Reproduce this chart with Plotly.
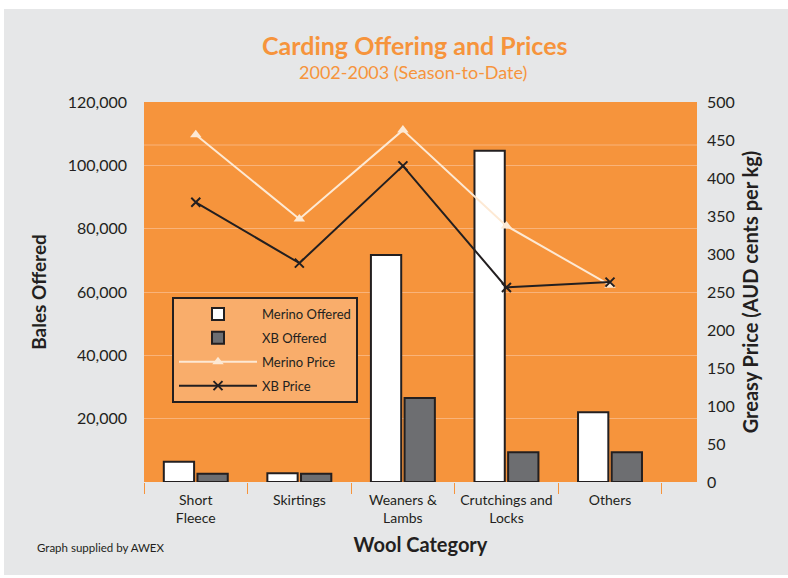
import plotly.graph_objects as go

categories = ["Short<br>Fleece", "Skirtings", "Weaners &<br>Lambs", "Crutchings and<br>Locks", "Others"]
merino_offered = [6400, 2800, 71700, 104600, 22000]
xb_offered = [2600, 2600, 26500, 9400, 9400]
merino_price = [457, 346, 463, 337, 259]
xb_price = [368, 288, 416, 256, 263]

left_ticks = [20000, 40000, 60000, 80000, 100000, 120000]
right_ticks = list(range(0, 501, 50))

FONT = "Lato, 'Open Sans', sans-serif"
DARK = "#231f20"
ORANGE = "#f6943c"
GREY = "#e6e7e8"

W, H = 788, 578
L, R, T, B = 144, 697, 102, 482


def px(x):
    return (x - L) / (R - L)


def py(y):
    return (B - y) / (B - T)


fig = go.Figure()
fig.add_trace(go.Bar(x=categories, y=merino_offered, name="Merino Offered",
                     marker=dict(color="white", line=dict(color=DARK, width=2)),
                     legendgroup="a"))
fig.add_trace(go.Bar(x=categories, y=xb_offered, name="XB Offered",
                     marker=dict(color="#6d6e71", line=dict(color=DARK, width=2)),
                     legendgroup="b"))
fig.add_trace(go.Scatter(x=categories, y=merino_price, name="Merino Price", yaxis="y2",
                         mode="lines+markers",
                         line=dict(color="#fde9d4", width=2),
                         marker=dict(symbol="triangle-up", size=10, color="#fde9d4"),
                         legendgroup="c"))
fig.add_trace(go.Scatter(x=categories, y=xb_price, name="XB Price", yaxis="y2",
                         mode="lines+markers",
                         line=dict(color=DARK, width=2),
                         marker=dict(symbol="x-thin", size=9, line=dict(color=DARK, width=2)),
                         legendgroup="d"))

shapes = [
    dict(type="line", xref="paper", yref="paper", x0=0, x1=1, y0=py(145), y1=py(145),
         line=dict(color="#f9b37a", width=1), layer="below"),
    dict(type="rect", xref="paper", yref="paper", x0=px(-2), x1=px(W + 2),
         y0=py(9), y1=py(-2), fillcolor="white", line=dict(width=0)),
    dict(type="rect", xref="paper", yref="paper", x0=px(-2), x1=px(4),
         y0=py(H + 2), y1=py(-2), fillcolor="white", line=dict(width=0)),
    dict(type="rect", xref="paper", yref="paper", x0=px(-2), x1=px(W + 2),
         y0=py(H + 2), y1=py(575), fillcolor="white", line=dict(width=0)),
]

annotations = [
    dict(text="<b>Carding Offering and Prices</b>", xref="paper", yref="paper",
         x=px(414), y=py(45), xanchor="center", yanchor="middle", showarrow=False,
         font=dict(family=FONT, size=25, color=ORANGE)),
    dict(text="2002-2003 (Season-to-Date)", xref="paper", yref="paper",
         x=px(413), y=py(72), xanchor="center", yanchor="middle", showarrow=False,
         font=dict(family=FONT, size=18, color=ORANGE)),
    dict(text="Graph supplied by AWEX", xref="paper", yref="paper",
         x=px(35), y=py(547), xanchor="left", yanchor="middle", showarrow=False,
         font=dict(family=FONT, size=11.5, color=DARK)),
]

fig.update_layout(
    width=W, height=H,
    margin=dict(l=L, r=W - R, t=T, b=H - B, pad=0, autoexpand=False),
    paper_bgcolor=GREY,
    plot_bgcolor=ORANGE,
    font=dict(family=FONT, color=DARK),
    barmode="group",
    bargap=0.35,
    bargroupgap=0.1,
    showlegend=True,
    legend=dict(x=px(172), y=py(297), xanchor="left", yanchor="top",
                bgcolor="#f9ad6b", bordercolor=DARK, borderwidth=2,
                font=dict(family=FONT, size=13, color=DARK),
                itemwidth=78, tracegroupgap=4, traceorder="grouped"),
    xaxis=dict(
        type="category", range=[-0.5, 4.84], tickson="boundaries",
        ticks="outside", ticklen=11, tickcolor=ORANGE, tickwidth=1,
        showgrid=False, showline=False, zeroline=False, automargin=False,
        ticklabelstandoff=8,
        tickfont=dict(family=FONT, size=14, color=DARK),
        title=dict(text="<b>Wool Category</b>", font=dict(family=FONT, size=20, color=DARK),
                   standoff=12),
    ),
    yaxis=dict(
        range=[0, 120000], tickvals=left_ticks,
        ticktext=[f"{v:,}" for v in left_ticks],
        showgrid=True, gridcolor="#f9b37a", gridwidth=1, zeroline=False,
        showline=False, ticks="", ticklabelstandoff=16, automargin=False,
        tickfont=dict(family=FONT, size=16, color=DARK),
        title=dict(text="<b>Bales Offered</b>", font=dict(family=FONT, size=19, color=DARK),
                   standoff=16),
    ),
    yaxis2=dict(
        range=[0, 500], tickvals=right_ticks, overlaying="y", side="right",
        showgrid=False, zeroline=False, showline=False, ticks="",
        ticklabelstandoff=9, automargin=False,
        tickfont=dict(family=FONT, size=16, color=DARK),
        title=dict(text="<b>Greasy Price (AUD cents per kg)</b>",
                   font=dict(family=FONT, size=20, color=DARK), standoff=10),
    ),
    shapes=shapes,
    annotations=annotations,
)

fig.write_html("out.html", config={"displayModeBar": False},
               post_script="document.body.style.margin='0';")
